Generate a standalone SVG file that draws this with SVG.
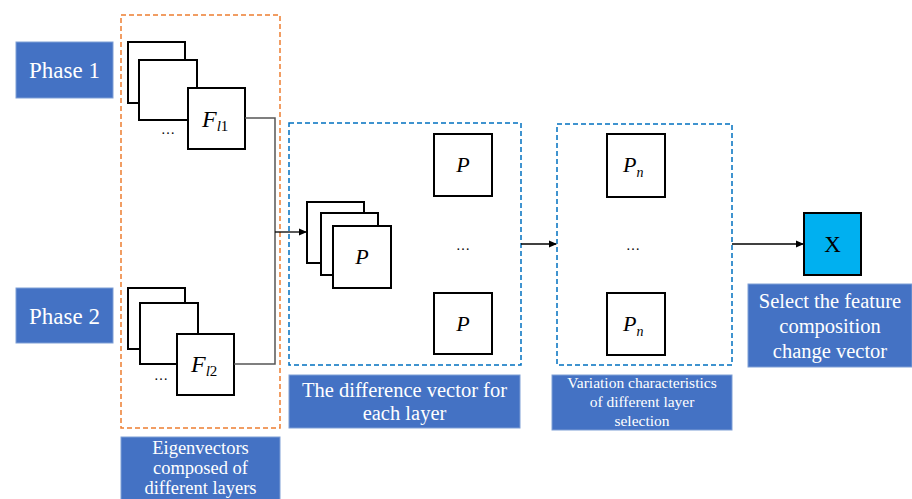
<svg xmlns="http://www.w3.org/2000/svg" width="912" height="499" viewBox="0 0 912 499">
<defs>
<style>
.lbl{fill:#4472C4;stroke:#7f9fd6;stroke-width:1}
.lt{fill:#fff;text-anchor:middle}
.sq{fill:#fff;stroke:#000;stroke-width:2}
.it{font-style:italic;fill:#000}
.dots{fill:#000;font-size:14px;text-anchor:middle}
.od{fill:none;stroke:#ED7D31;stroke-width:1.5;stroke-dasharray:5,3}
.bd{fill:none;stroke:#0070C0;stroke-width:1.5;stroke-dasharray:5,3}
.cn{fill:none;stroke:#000;stroke-width:1.3}
.cg{fill:none;stroke:#555;stroke-width:1.5}
</style>
<marker id="ah" markerWidth="8" markerHeight="8" refX="7" refY="4" orient="auto" markerUnits="userSpaceOnUse">
<path d="M0,0.5 L8,4 L0,7.5 Z" fill="#000"/>
</marker>
</defs>
<rect width="912" height="499" fill="#fff"/>
<g font-family="'Liberation Serif', 'Times New Roman', serif">
<g id="containers">
<rect class="od" x="121" y="15" width="159" height="413"/>
<rect class="bd" x="289" y="123" width="232" height="242"/>
<rect class="bd" x="557" y="124" width="175" height="241"/>
</g>

<g id="phase1">
<rect class="lbl" x="16" y="42" width="97" height="56"/>
<text class="lt" x="64.5" y="78" font-size="23">Phase 1</text>
</g>
<g id="phase2">
<rect class="lbl" x="16" y="288" width="97" height="55"/>
<text class="lt" x="64.5" y="324" font-size="23">Phase 2</text>
</g>

<g id="stack-f1">
<rect class="sq" x="128" y="42" width="57" height="61"/>
<rect class="sq" x="139" y="60" width="58" height="60"/>
<rect class="sq" x="188" y="88" width="57" height="61"/>
<text class="dots" x="168" y="134">…</text>
<text class="it" x="202" y="127" font-size="24">F<tspan font-size="15" dy="4">l</tspan><tspan font-size="15" font-style="normal">1</tspan></text>
</g>

<g id="stack-f2">
<rect class="sq" x="128" y="288" width="57" height="61"/>
<rect class="sq" x="140" y="303" width="58" height="61"/>
<rect class="sq" x="177" y="334" width="57" height="61"/>
<text class="dots" x="161" y="380">…</text>
<text class="it" x="191" y="372" font-size="24">F<tspan font-size="15" dy="4">l</tspan><tspan font-size="15" font-style="normal">2</tspan></text>
</g>

<g id="label-eigen">
<rect class="lbl" x="121" y="437" width="159" height="66"/>
<text class="lt" font-size="18.5"><tspan x="200.5" y="454">Eigenvectors</tspan><tspan x="200.5" y="474">composed of</tspan><tspan x="200.5" y="494">different layers</tspan></text>
</g>

<g id="stack-p">
<rect class="sq" x="307" y="202" width="57" height="61"/>
<rect class="sq" x="321" y="213" width="57" height="62"/>
<rect class="sq" x="333" y="226" width="58" height="62"/>
<text class="it" x="362" y="264" font-size="22" text-anchor="middle">P</text>
</g>

<g id="p-top">
<rect class="sq" x="434" y="134" width="58" height="62"/>
<text class="it" x="463" y="172" font-size="22" text-anchor="middle">P</text>
</g>
<text class="dots" x="463" y="250">…</text>
<g id="p-bottom">
<rect class="sq" x="434" y="293" width="58" height="61"/>
<text class="it" x="463" y="331" font-size="22" text-anchor="middle">P</text>
</g>

<g id="label-diff">
<rect class="lbl" x="289" y="375" width="231" height="53"/>
<text class="lt" font-size="20.5"><tspan x="404.5" y="397">The difference vector for</tspan><tspan x="404.5" y="420">each layer</tspan></text>
</g>

<g id="pn-top">
<rect class="sq" x="607" y="134" width="58" height="63"/>
<text class="it" x="623" y="172" font-size="22">P<tspan font-size="14" dy="5">n</tspan></text>
</g>
<text class="dots" x="633" y="250">…</text>
<g id="pn-bottom">
<rect class="sq" x="607" y="293" width="58" height="62"/>
<text class="it" x="623" y="331" font-size="22">P<tspan font-size="14" dy="5">n</tspan></text>
</g>

<g id="label-var">
<rect class="lbl" x="552" y="375" width="180" height="55"/>
<text class="lt" font-size="15.5"><tspan x="642" y="388">Variation characteristics</tspan><tspan x="642" y="407">of different layer</tspan><tspan x="642" y="426">selection</tspan></text>
</g>

<g id="x-node">
<rect x="804" y="213" width="57" height="62" fill="#00B0F0" stroke="#000" stroke-width="2"/>
<text x="832.5" y="252" font-size="23" text-anchor="middle" fill="#000">X</text>
</g>

<g id="label-select">
<rect class="lbl" x="748" y="284" width="164" height="83"/>
<text class="lt" font-size="20.5"><tspan x="830" y="308">Select the feature</tspan><tspan x="830" y="333">composition</tspan><tspan x="830" y="358">change vector</tspan></text>
</g>

<g id="connectors">
<polyline class="cg" points="245,118 275,118 275,364 234,364"/>
<line class="cn" x1="275" y1="232" x2="306" y2="232" marker-end="url(#ah)"/>
<line class="cn" x1="521" y1="244" x2="556" y2="244" marker-end="url(#ah)"/>
<line class="cn" x1="732" y1="244" x2="803" y2="244" marker-end="url(#ah)"/>
</g>
</g>
</svg>
